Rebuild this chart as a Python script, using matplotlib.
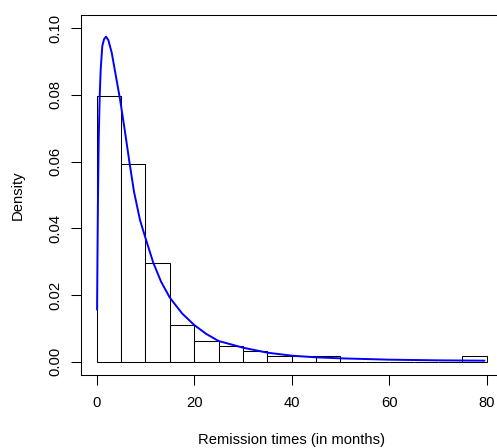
import matplotlib
matplotlib.use('Agg')
import matplotlib.pyplot as plt
import numpy as np

# histogram: bin edges and densities (width 5, counts / (128*5))
bin_edges = [0, 5, 10, 15, 20, 25, 30, 35, 40, 45, 50, 55, 60, 65, 70, 75, 80]
dens = [0.0797, 0.0594, 0.0297, 0.0109, 0.00625, 0.0047, 0.0031, 0.00156,
        0.00156, 0.00156, 0, 0, 0, 0, 0, 0.00156]

# fitted density curve
curve_x = [0.08, 0.15, 0.25, 0.41, 0.62, 0.82, 1.15, 1.5, 1.91, 2.38, 3.08, 3.8,
           4.79, 5.8, 6.7, 7.65, 8.88, 9.9, 11.6, 13.2, 15.0, 17.5, 20, 22.5, 25,
           30, 35, 40, 45, 50, 60, 70, 79.5]
curve_y = [0.0157, 0.030, 0.047, 0.0667, 0.0797, 0.0877, 0.0947, 0.0967, 0.0975,
           0.0965, 0.0927, 0.0868, 0.0787, 0.0690, 0.0600, 0.0510, 0.0425, 0.0376,
           0.0297, 0.0240, 0.0192, 0.0145, 0.0110, 0.0083, 0.0062, 0.0042,
           0.0027, 0.0018, 0.0013, 0.0010, 0.0006, 0.0004, 0.0003]

plt.rcParams['font.family'] = ['Liberation Sans', 'DejaVu Sans']

fig = plt.figure(figsize=(4.97, 4.48), dpi=100)
ax = fig.add_axes([81.1 / 497, 73 / 448, 421.2 / 497, 360 / 448])

lefts = bin_edges[:-1]
widths = np.diff(bin_edges)
ax.bar(lefts, dens, width=widths, align='edge', facecolor='white',
       edgecolor='black', linewidth=0.75)
ax.plot(curve_x, curve_y, color='#0000ff', linewidth=1.4)

ax.set_xlim(-3.2, 83.2)
ax.set_ylim(-0.004, 0.104)
ax.set_xticks([0, 20, 40, 60, 80])
ax.set_yticks([0, 0.02, 0.04, 0.06, 0.08, 0.10])
ax.set_yticklabels(['0.00', '0.02', '0.04', '0.06', '0.08', '0.10'],
                   rotation=90, va='center')
ax.tick_params(direction='out', length=7.2, width=0.75, labelsize=10.6)
ax.tick_params(axis='x', pad=8)
ax.tick_params(axis='y', pad=6)
ax.spines['right'].set_visible(False)
for s in ['left', 'top', 'bottom']:
    ax.spines[s].set_linewidth(0.75)

ax.set_xlabel('Remission times (in months)', fontsize=10.6, va='center')
ax.set_ylabel('Density', fontsize=10.6, va='center')
ax.xaxis.set_label_coords(0.5, -0.1806)
ax.yaxis.set_label_coords(-0.1498, 0.5)

fig.savefig('out.png', dpi=100)
